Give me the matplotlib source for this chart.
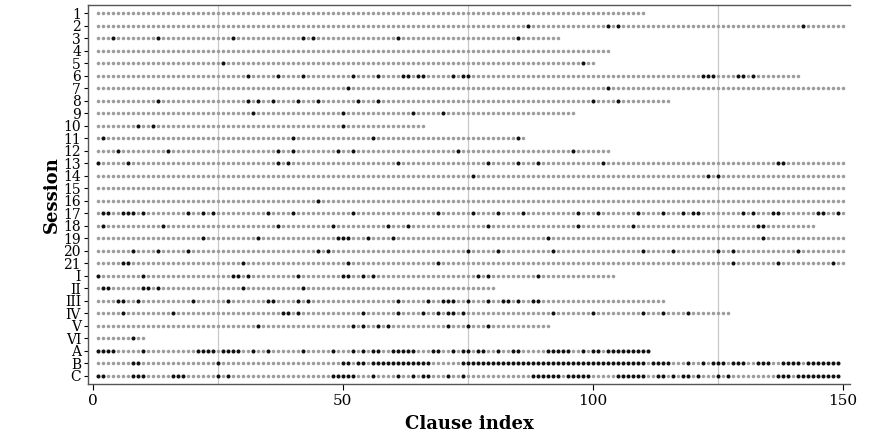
import matplotlib
matplotlib.use("Agg")
import matplotlib.pyplot as plt

sessions = ['1','2','3','4','5','6','7','8','9','10','11','12','13','14','15','16','17','18','19','20','21',
            'I','II','III','IV','V','VI','A','B','C']
lengths = [110,150,93,103,100,141,150,115,96,66,86,103,150,150,150,150,150,144,150,150,150,
           104,80,114,127,91,10,111,149,149]

black_idx = [
    [],
    [87,103,105,142],
    [4,13,28,42,44,61,85],
    [],
    [26,98],
    [31,37,42,52,57,62,63,65,66,72,74,75,122,123,124,129,130,132],
    [51,103],
    [13,31,33,36,41,45,53,57,100,105],
    [32,50,64,70],
    [9,12,50],
    [2,40,56,85],
    [5,15,37,40,49,52,73,96],
    [1,7,37,39,61,79,85,89,102,137,138],
    [76,123,125],
    [],
    [45],
    [2,3,6,7,8,10,19,22,24,35,40,52,69,76,81,86,97,101,109,114,118,120,121,130,132,136,137,145,146,149],
    [2,14,37,48,59,63,79,97,108,133,134],
    [22,33,49,50,51,55,60,91,134],
    [8,13,19,45,47,75,81,92,110,116,125,128,141],
    [6,7,30,51,69,128,137,148],
    [1,10,28,29,31,41,50,51,54,56,77,79,89],
    [2,3,10,11,13,30,42],
    [5,6,9,20,27,35,36,41,43,61,67,70,71,72,75,79,82,83,85,88,89],
    [6,16,38,39,41,54,61,66,69,71,72,74,92,100,110,114,119],
    [33,52,54,57,59,71,75,79],
    [8],
    [1,2,3,4,10,21,22,23,24,26,27,28,29,32,35,42,48,52,54,56,57,60,61,62,63,64,68,69,72,74,75,
     77,78,81,84,85,91,92,93,94,95,98,100,101,103,104,105,106,107,108,109,110,111],
    [8,9,25,50,51,53,54,56,57,58,59,60,61,62,63,64,65,66,67,74,75,76,77,78,79,80,81,82,83,84,85,
     86,87,88,89,90,91,92,93,94,95,96,97,98,99,100,101,102,103,104,105,106,107,108,109,110,112,
     113,114,115,119,122,124,125,126,128,129,130,133,134,135,138,139,140,141,143,144,145,146,147,148,149],
    [1,2,8,9,10,16,17,18,25,27,48,49,50,51,52,56,61,64,66,67,71,74,88,89,90,91,92,93,95,96,97,
     98,99,105,106,107,108,109,110,113,114,116,118,119,121,125,127,137,138,139,141,142,143,144,145,146,147,148,149],
]

vlines = [25, 75, 125]
xticks = [0, 50, 100, 150]

plt.rcParams['font.family'] = ['DejaVu Serif']
fig = plt.figure(figsize=(8.72, 4.34), dpi=100)
ax = fig.add_axes([0.1009, 0.1152, 0.8739, 0.8733])

for v in vlines:
    ax.axvline(v, color='#c8c8c8', lw=0.9, zorder=0)

for r, (n, blk) in enumerate(zip(lengths, black_idx)):
    y = r + 1
    bset = set(blk)
    gx = [i for i in range(1, n + 1) if i not in bset]
    bx = [i for i in range(1, n + 1) if i in bset]
    ax.scatter(gx, [y] * len(gx), s=6.5, color='#9c9c9c', linewidths=0, zorder=2)
    ax.scatter(bx, [y] * len(bx), s=8.5, color='#111111', linewidths=0, zorder=3)

ax.set_xlim(-1, 151.5)
ax.set_ylim(len(sessions) + 0.68, 0.35)
ax.set_yticks(range(1, len(sessions) + 1))
ax.set_yticklabels(sessions)
ax.set_xticks(xticks)
ax.tick_params(axis='y', length=3, pad=2, labelsize=10)
ax.tick_params(axis='x', length=4, pad=3, labelsize=11)
for s in ['left', 'bottom', 'top']:
    ax.spines[s].set_color('#555555')
    ax.spines[s].set_linewidth(1.0)
ax.spines['right'].set_visible(False)
ax.set_xlabel('Clause index', fontsize=13, fontweight='bold', labelpad=5)
ax.set_ylabel('Session', fontsize=13, fontweight='bold', labelpad=2)

fig.savefig('out.png', dpi=100)
